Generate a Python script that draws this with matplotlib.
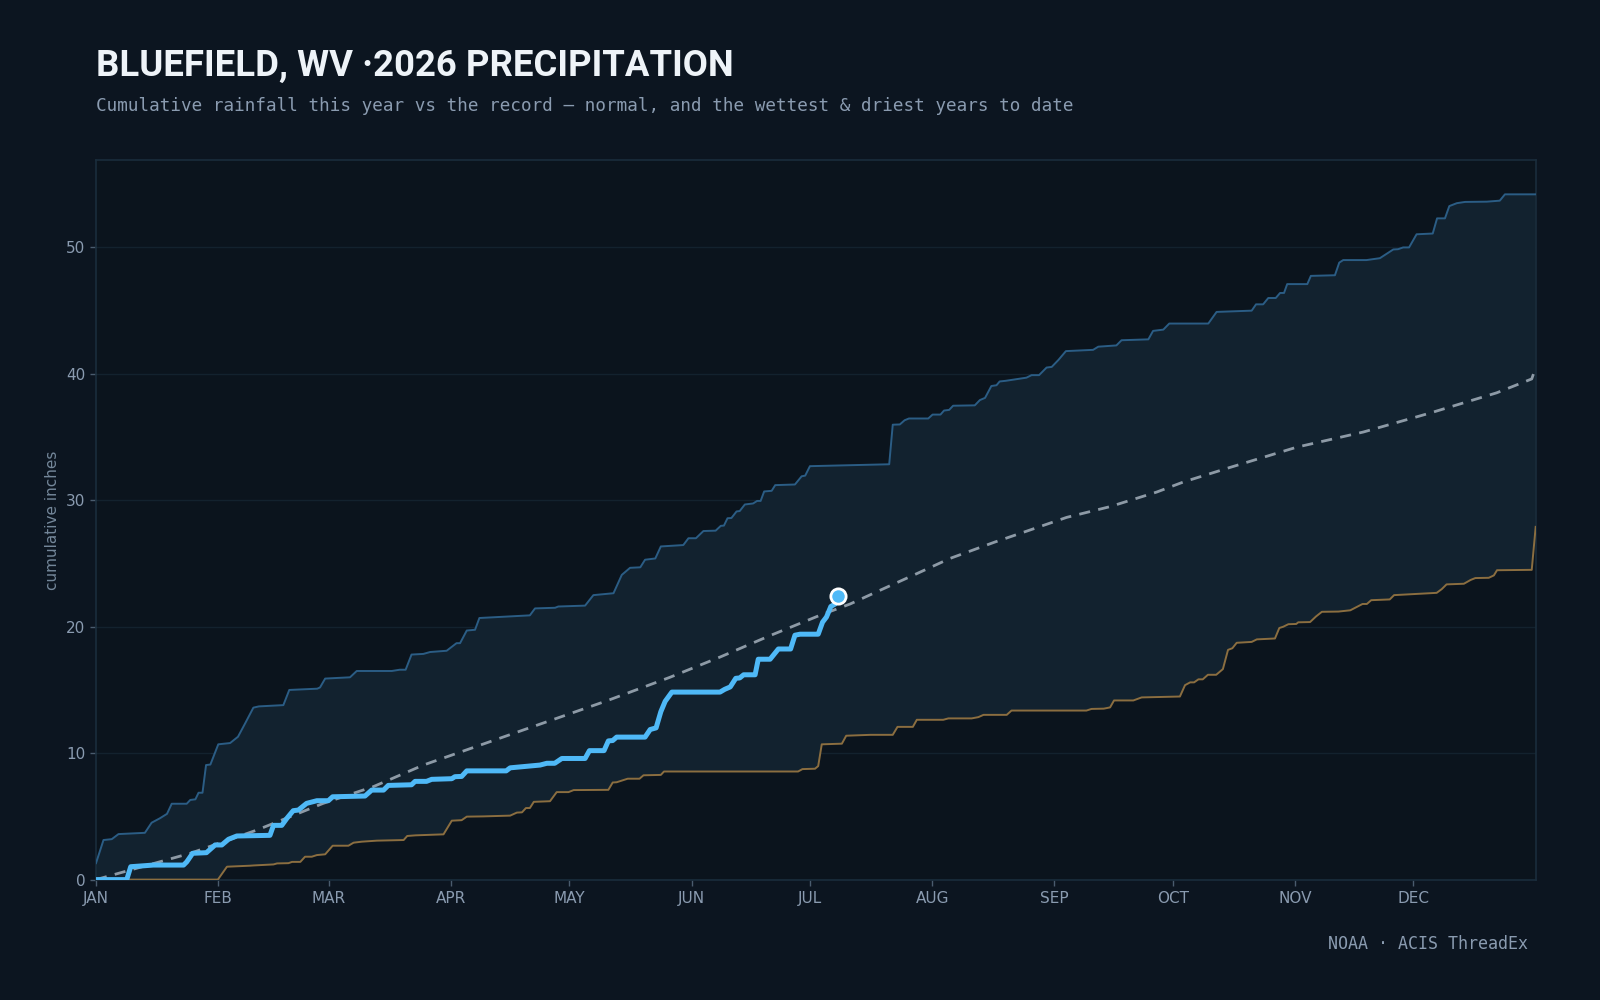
import matplotlib
matplotlib.use("Agg")
import matplotlib.pyplot as plt
import numpy as np

# ---------------- data (day-of-year, cumulative inches) ----------------
month_days = [0, 31, 59, 90, 120, 151, 181, 212, 243, 273, 304, 334]
month_labels = ["JAN", "FEB", "MAR", "APR", "MAY", "JUN", "JUL", "AUG", "SEP", "OCT", "NOV", "DEC"]
y_ticks = [0, 10, 20, 30, 40, 50]

wet_days = [0, 1.9, 4, 5.7, 12.4, 14.1, 16.2, 18, 19.2, 23, 23.9, 25.2, 26, 27, 27.9, 29, 31, 34, 36,
            37.8, 39.9, 41.3, 47.5, 49, 56.1, 56.8, 58.1, 64.4, 66.1, 75, 77, 78.5, 80, 83, 84.7, 88.9,
            91.4, 92.3, 94, 96.1, 97.2, 110, 111.3, 116.4, 117.2, 124, 126.1, 131.2, 133.3, 135.4,
            138, 139.2, 141.8, 143.2, 148.9, 150.2, 152.1, 154, 157.1, 158.4, 159.2, 160.1, 161.1,
            162.4, 163.2, 164.5, 166.6, 167.6, 168.5, 169.4, 171.3, 172.2, 177.2, 178.9, 179.8, 181,
            194.5, 201.1, 202, 203.8, 205, 206.1, 211, 212.1, 214.1, 215, 216.3, 217.3, 222.8, 224.1,
            225.4, 227, 228.3, 229.1, 230.6, 235.9, 237.2, 239.1, 241, 242.3, 244, 245.9, 252.8,
            254.1, 258.7, 260, 266.8, 268, 270.6, 272.1, 282, 284.1, 293, 294.1, 295.9, 297.2, 299.1,
            300.2, 301.2, 302, 307.1, 308, 314.1, 315.2, 316.2, 322.1, 325.5, 327.2, 328.9, 330.1,
            331.4, 332.9, 334.8, 338.9, 340, 342, 343.1, 345, 347.1, 352.6, 355.9, 357.2, 365]
wet_vals = [1.3, 3.13, 3.2, 3.6, 3.7, 4.5, 4.85, 5.2, 6.0, 6.0, 6.3, 6.35, 6.87, 6.87, 9.06, 9.1, 10.7,
            10.8, 11.3, 12.35, 13.6, 13.7, 13.8, 15.0, 15.1, 15.2, 15.9, 16.0, 16.5, 16.5, 16.6, 16.6,
            17.8, 17.85, 18.0, 18.1, 18.7, 18.7, 19.7, 19.76, 20.69, 20.9, 21.45, 21.5, 21.6, 21.67,
            22.5, 22.65, 24.1, 24.66, 24.7, 25.3, 25.4, 26.35, 26.46, 27.0, 27.0, 27.57, 27.6, 27.98,
            28.0, 28.58, 28.6, 29.12, 29.15, 29.67, 29.75, 29.95, 29.95, 30.7, 30.75, 31.2, 31.25,
            31.9, 31.95, 32.7, 32.8, 32.85, 35.98, 36.0, 36.33, 36.47, 36.47, 36.78, 36.78, 37.1,
            37.15, 37.48, 37.51, 37.93, 38.1, 39.04, 39.1, 39.4, 39.45, 39.7, 39.9, 39.9, 40.5, 40.55,
            41.1, 41.8, 41.9, 42.15, 42.25, 42.66, 42.73, 43.4, 43.5, 43.98, 43.98, 44.9, 45.0, 45.5,
            45.5, 46.0, 46.0, 46.4, 46.4, 47.1, 47.1, 47.75, 47.8, 48.8, 49.0, 49.0, 49.15, 49.5,
            49.84, 49.86, 50.0, 50.0, 51.04, 51.1, 52.3, 52.3, 53.27, 53.5, 53.6, 53.62, 53.7, 54.2, 54.2]

dry_days = [0, 30.9, 33.2, 39.1, 40, 45, 45.9, 48.8, 49.7, 51.8, 53, 54.7, 56, 58.1, 60, 64, 65.3, 67.4,
            71.2, 78, 78.9, 81, 88.1, 90.2, 92.7, 94, 98.2, 105, 106.7, 108, 109, 110, 111, 115.1,
            116.8, 119.8, 121.1, 129.9, 131, 132, 134.8, 137.8, 138.8, 143.2, 144, 178, 179.1, 182.3,
            183.1, 184, 189.1, 190.2, 196.3, 202, 203.2, 207.1, 208.1, 214.8, 216.1, 222, 223.7, 225,
            230.9, 232.1, 251.1, 252.4, 255.5, 257.1, 258.1, 263, 265.1, 274.8, 276.1, 277.4, 278.4,
            279.5, 280.6, 281.9, 284, 285.7, 287, 288.1, 289.2, 293, 294.3, 298.9, 300, 301, 302.3,
            304.3, 304.8, 307.8, 309.3, 310.8, 315, 318, 321.1, 322.2, 323.3, 328, 329.1, 339.9,
            341.2, 342.4, 346.8, 348.5, 349.7, 353.1, 354.4, 355.2, 364, 365]
dry_vals = [0, 0, 1.02, 1.1, 1.12, 1.2, 1.28, 1.3, 1.4, 1.4, 1.81, 1.81, 1.94, 2.0, 2.68, 2.68, 2.92,
            3.0, 3.08, 3.13, 3.45, 3.5, 3.58, 4.66, 4.7, 4.98, 5.0, 5.06, 5.3, 5.32, 5.66, 5.66, 6.15,
            6.2, 6.92, 6.92, 7.08, 7.1, 7.68, 7.7, 7.98, 7.98, 8.25, 8.28, 8.55, 8.55, 8.74, 8.77,
            8.98, 10.7, 10.75, 11.38, 11.45, 11.45, 12.08, 12.08, 12.64, 12.64, 12.75, 12.75, 12.85,
            13.03, 13.03, 13.37, 13.37, 13.5, 13.52, 13.62, 14.17, 14.17, 14.41, 14.48, 15.38, 15.6,
            15.6, 15.84, 15.84, 16.2, 16.2, 16.65, 18.17, 18.3, 18.73, 18.8, 19.0, 19.07, 19.9, 20.0,
            20.2, 20.22, 20.35, 20.37, 20.81, 21.18, 21.2, 21.3, 21.8, 21.8, 22.1, 22.16, 22.5, 22.68,
            22.98, 23.35, 23.4, 23.7, 23.85, 23.87, 24.06, 24.47, 24.5, 27.9]

normal_days = [0, 23.9, 40.8, 57.6, 70.3, 83, 91.4, 108.3, 129.5, 145.5, 158.2, 170.9, 183.5, 191.2,
               199.6, 208.1, 216.5, 227.9, 235.4, 246.1, 257.1, 268.9, 275.7, 287.5, 304.4, 321.3,
               338.2, 355.1, 364, 365]
normal_vals = [0, 2.08, 3.92, 6.03, 7.35, 9.06, 9.98, 11.83, 14.14, 16.0, 17.6, 19.3, 20.9, 21.8,
               23.0, 24.2, 25.4, 26.7, 27.5, 28.65, 29.5, 30.65, 31.45, 32.6, 34.2, 35.4, 36.9, 38.5,
               39.6, 40.5]

cur_days = [0, 7.8, 8.8, 12.4, 14.5, 22.2, 23, 24.5, 28, 30.2, 31.9, 33.6, 35.7, 44.1, 45, 47.1, 48.4,
            50, 51.3, 53.4, 56, 58.9, 60, 68.2, 69.9, 72.9, 74.1, 80, 80.9, 83.8, 85.1, 90.2, 91,
            92.7, 94, 104, 105, 112.6, 114.3, 116.3, 118.1, 124, 125.1, 128.8, 129.9, 131, 132,
            139.2, 140.5, 142, 143.2, 144.3, 146, 158.2, 159.4, 160.8, 162.2, 163.2, 164.2, 167.1,
            167.9, 170.9, 173, 176.1, 177.2, 178.5, 183.1, 184.2, 185.2, 186.3, 187.4, 188.2]
cur_vals = [0, 0, 1.02, 1.1, 1.15, 1.15, 1.4, 2.08, 2.13, 2.74, 2.74, 3.19, 3.45, 3.5, 4.29, 4.29, 4.85,
            5.45, 5.5, 6.03, 6.24, 6.24, 6.55, 6.61, 7.08, 7.08, 7.45, 7.5, 7.77, 7.77, 7.93, 7.98,
            8.14, 8.16, 8.6, 8.6, 8.84, 9.06, 9.2, 9.2, 9.58, 9.58, 10.2, 10.2, 10.97, 11.0, 11.27,
            11.27, 11.87, 12.0, 13.28, 14.1, 14.83, 14.83, 15.05, 15.24, 15.92, 15.95, 16.2, 16.2,
            17.43, 17.43, 18.24, 18.24, 19.33, 19.41, 19.41, 20.36, 20.77, 21.6, 21.8, 22.45]

# ---------------- style ----------------
BG = "#0c1520"
AX_BG = "#0b141d"
FILL = "#12222f"
GRID = "#13222e"
SPINE = "#1a2d3c"
WET = "#2b5d85"
DRY = "#8b6e40"
NORMAL = "#8d9aa6"
CUR = "#4fb9f7"
TXT = "#8a9bb0"
TITLE = "#eef3f8"

fig = plt.figure(figsize=(16, 10), dpi=100, facecolor=BG)
ax = fig.add_axes([0.0600, 0.1204, 0.8998, 0.7194])
ax.set_facecolor(AX_BG)

ax.set_xlim(0, 365)
ax.set_ylim(0, 56.9)

ax.set_yticks(y_ticks)
ax.yaxis.grid(True, color=GRID, linewidth=1.0, zorder=0)
ax.set_axisbelow(True)

# band between driest and wettest
band_x = np.concatenate([wet_days, dry_days[::-1]])
band_y = np.concatenate([wet_vals, dry_vals[::-1]])
ax.fill(band_x, band_y, color=FILL, linewidth=0, zorder=1)

ax.plot(wet_days, wet_vals, color=WET, linewidth=1.4, zorder=3, solid_joinstyle="round")
ax.plot(dry_days, dry_vals, color=DRY, linewidth=1.4, zorder=3, solid_joinstyle="round")
ax.plot(normal_days, normal_vals, color=NORMAL, linewidth=2.0, linestyle=(0, (4.0, 3.0)), zorder=4)
ax.plot(cur_days, cur_vals, color=CUR, linewidth=3.6, zorder=5, solid_joinstyle="round",
        solid_capstyle="round")
ax.plot([cur_days[-1]], [cur_vals[-1]], marker="o", markersize=11, markerfacecolor=CUR,
        markeredgecolor="white", markeredgewidth=2.0, zorder=6, linestyle="none")

ax.set_xticks(month_days)
ax.set_xticklabels(month_labels)
ax.tick_params(axis="both", colors="#4a5c6e", labelcolor=TXT, labelsize=11, length=4, width=1)
ax.tick_params(axis="x", pad=4)
for s in ax.spines.values():
    s.set_color(SPINE)
    s.set_linewidth(1.2)

ax.set_ylabel("cumulative inches", color="#74879a", fontsize=11, labelpad=4.5)

fig.text(0.0600, 0.9245, "BLUEFIELD, WV \u00b72026 PRECIPITATION", color=TITLE, fontsize=26.3,
         fontweight="bold", family=["Roboto", "DejaVu Sans"], va="baseline", ha="left")
fig.text(0.0600, 0.889, "Cumulative rainfall this year vs the record \u2014 normal, and the wettest & driest years to date",
         color=TXT, fontsize=12.7, family=["DejaVu Sans Mono"], va="baseline", ha="left")
fig.text(0.9548, 0.051, "NOAA \u00b7 ACIS ThreadEx", color=TXT, fontsize=12,
         family=["DejaVu Sans Mono"], va="baseline", ha="right")

fig.savefig("out.png", dpi=100, facecolor=BG)
